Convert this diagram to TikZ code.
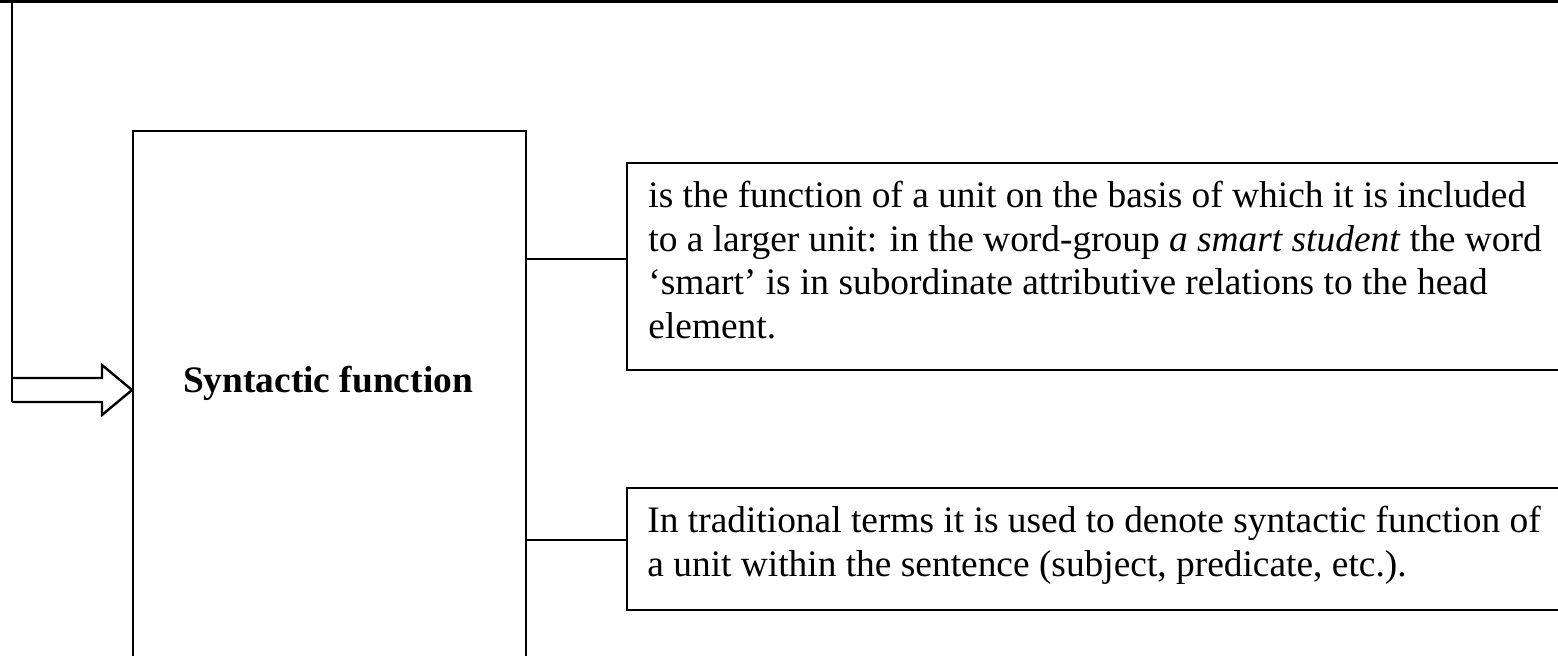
\documentclass[tikz,border=0pt]{standalone}
\usepackage{fontspec}
\setmainfont{Liberation Serif}
\begin{document}
\begin{tikzpicture}[x=0.5pt,y=-0.5pt,
  frame/.style={draw=black, line width=1.2pt, inner sep=0pt, anchor=north west},
  link/.style={draw=black, line width=1.2pt},
  bodytext/.style={font=\fontsize{18.7}{21.75}\selectfont, align=left, inner sep=0pt, anchor=north west},
  titletext/.style={font=\fontsize{18.7}{21.75}\selectfont\bfseries, inner sep=0pt, anchor=base}]
\useasboundingbox (0,0) rectangle (1558,655);
\clip (0,0) rectangle (1558,655);
% top rule and left feed line
\coordinate (tl) at (0,1.7);
\coordinate (tr) at (1558,1.7);
\draw[line width=1.75pt] (tl) -- (tr);
\coordinate (feedtop) at (12,0);
\coordinate (feedbot) at (12,402);
\draw[link] (feedtop) -- (feedbot);
% main box
\node[frame, minimum width=196.5pt, minimum height=272pt] (big) at (132,130) {};
\node[titletext] (title) at (328,392) {Syntactic function};
% hollow block arrow
\draw[link, line join=miter] (12,378) -- (102,378) -- (102,365) -- (big.west |- 0,390) -- (102,415) -- (102,402) -- (feedbot);
% definition boxes
\node[frame, minimum width=480pt, minimum height=103.5pt] (box1) at (626,162) {};
\node[bodytext] (t1) at (648,181) {is the function of a unit on the basis of which it is included\\
to a larger unit: in the word-group \textit{a smart student} the word\\
‘smart’ is in subordinate attributive relations to the head\\
element.};
\node[frame, minimum width=480pt, minimum height=61pt] (box2) at (626,487) {};
\node[bodytext] (t2) at (647,506) {In traditional terms it is used to denote syntactic function of\\
a unit within the sentence (subject, predicate, etc.).};
% connectors
\draw[link] (big.east |- 0,259) -- (box1.west |- 0,259);
\draw[link] (big.east |- 0,540) -- (box2.west |- 0,540);
\end{tikzpicture}
\end{document}
